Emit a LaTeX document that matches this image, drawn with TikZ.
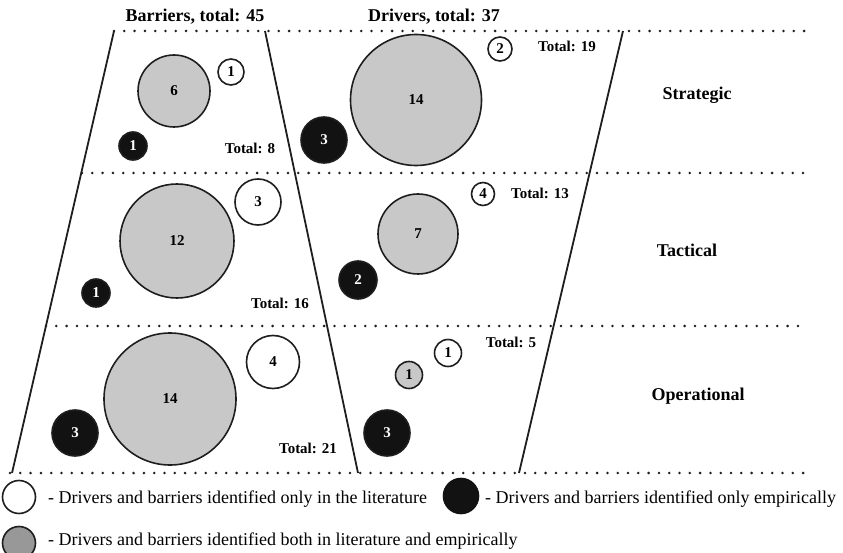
\documentclass[tikz,border=0pt]{standalone}
\usepackage{fontspec}
\setmainfont{Liberation Serif}
\definecolor{lightfill}{RGB}{200,200,200}
\definecolor{legendgray}{RGB}{152,152,152}
\definecolor{darkfill}{RGB}{18,18,18}
\definecolor{ink}{RGB}{30,30,30}
\begin{document}
\begin{tikzpicture}[x=1pt,y=-1pt,
  ring/.style={circle,draw=ink,line width=1.6pt,inner sep=0pt,
    font=\fontsize{15}{17}\selectfont\bfseries},
  lit/.style={ring,fill=white},
  emp/.style={ring,fill=darkfill,text=white},
  both/.style={ring,fill=lightfill},
  total/.style={font=\fontsize{15}{17}\selectfont\bfseries,inner sep=0pt},
  header/.style={font=\fontsize{18}{20}\selectfont\bfseries,inner sep=0pt},
  level/.style={font=\fontsize{18}{20}\selectfont\bfseries,inner sep=0pt},
  legendtext/.style={font=\fontsize{18}{20}\selectfont,inner sep=0pt,anchor=base west},
  rowline/.style={draw=ink,line width=2.8pt,line cap=round,dash pattern=on 0pt off 10.3pt},
  sideline/.style={draw=ink,line width=1.8pt}
]
\useasboundingbox (0,0) rectangle (843,553);

% frame coordinates
\coordinate (bl-top) at (114,31);
\coordinate (bl-bot) at (12,473);
\coordinate (mid-top) at (265,31);
\coordinate (mid-bot) at (358,473);
\coordinate (dr-top) at (623,31);
\coordinate (dr-bot) at (519,473);

\coordinate (r1a) at (114,31);  \coordinate (r1b) at (808,31);
\coordinate (r2a) at (82,173);  \coordinate (r2b) at (806,173);
\coordinate (r3a) at (46,326);  \coordinate (r3b) at (800,326);
\coordinate (r4a) at (10,473);  \coordinate (r4b) at (807,473);

% level boundaries
\draw[rowline] (r1a) -- (r1b);
\draw[rowline] (r2a) -- (r2b);
\draw[rowline] (r3a) -- (r3b);
\draw[rowline] (r4a) -- (r4b);

% column sides
\draw[sideline] (bl-top) -- (bl-bot);
\draw[sideline] (mid-top) -- (mid-bot);
\draw[sideline] (dr-top) -- (dr-bot);

% headers
\node[header] (hb) at (195,17) {Barriers, total: 45};
\node[header] (hd) at (434,17) {Drivers, total: 37};

% level names
\node[level] (lvS) at (697,95) {Strategic};
\node[level] (lvT) at (687,250) {Tactical};
\node[level] (lvO) at (698,396) {Operational};

% strategic: barriers
\node[both,minimum size=72pt] (bS6) at (174,91) {6};
\node[lit,minimum size=26pt] (bS1w) at (231,72) {1};
\node[emp,minimum size=28pt] (bS1b) at (133,146) {1};
\node[total] (bStot) at (250,148) {Total: 8};

% strategic: drivers
\node[both,minimum size=131pt] (dS14) at (416,100) {14};
\node[emp,minimum size=46pt] (dS3) at (324,140) {3};
\node[lit,minimum size=24pt] (dS2) at (500,49) {2};
\node[total] (dStot) at (567,46) {Total: 19};

% tactical: barriers
\node[both,minimum size=114pt] (bT12) at (177,241) {12};
\node[lit,minimum size=46pt] (bT3) at (258,202) {3};
\node[emp,minimum size=28pt] (bT1) at (96,293) {1};
\node[total] (bTtot) at (280,303) {Total: 16};

% tactical: drivers
\node[both,minimum size=80pt] (dT7) at (418,234) {7};
\node[emp,minimum size=38pt] (dT2) at (358,280) {2};
\node[lit,minimum size=23pt] (dT4) at (483,194) {4};
\node[total] (dTtot) at (540,193) {Total: 13};

% operational: barriers
\node[both,minimum size=132pt] (bO14) at (170,399) {14};
\node[lit,minimum size=53pt] (bO4) at (273,362) {4};
\node[emp,minimum size=46pt] (bO3) at (75,433) {3};
\node[total] (bOtot) at (308,448) {Total: 21};

% operational: drivers
\node[lit,minimum size=27pt] (dO1w) at (448,353) {1};
\node[both,minimum size=27pt] (dO1g) at (409,375) {1};
\node[emp,minimum size=46pt] (dO3) at (387,433) {3};
\node[total] (dOtot) at (511,342) {Total: 5};

% legend
\node[lit,minimum size=33pt] (kw) at (19,497) {};
\node[legendtext] (kwt) at (48,503) {- Drivers and barriers identified only in the literature};
\node[ring,fill=darkfill,draw=darkfill,minimum size=35pt] (kb) at (461,496) {};
\node[legendtext] (kbt) at (485,503) {- Drivers and barriers identified only empirically};
\node[ring,fill=legendgray,minimum size=33pt] (kg) at (19,543) {};
\node[legendtext] (kgt) at (48,545) {- Drivers and barriers identified both in literature and empirically};
\end{tikzpicture}
\end{document}
